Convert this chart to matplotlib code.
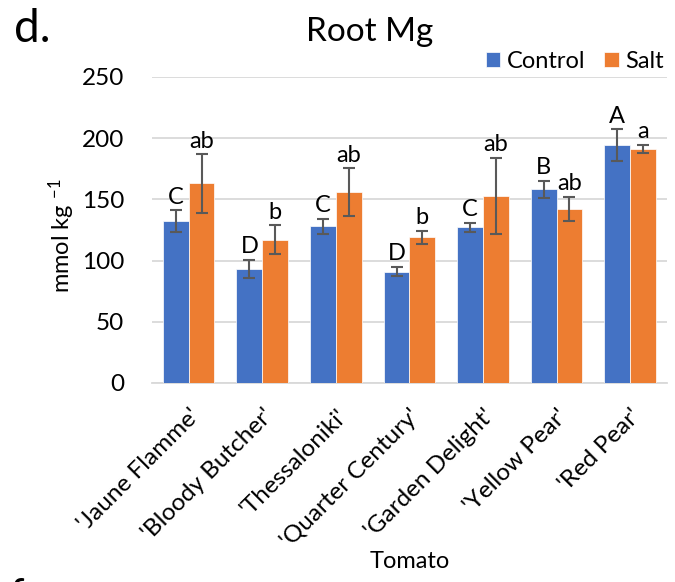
import matplotlib.pyplot as plt
import numpy as np

plt.rcParams['font.family'] = ['Lato', 'DejaVu Sans']
plt.rcParams['mathtext.default'] = 'regular'

# Dados
cultivares = ["'Jaune Flamme'", "'Bloody Butcher'", "'Thessaloniki'", "'Quarter Century'",
              "'Garden Delight'", "'Yellow Pear'", "'Red Pear'"]
controle = [132, 93, 128, 91, 127, 158, 194]
controle_err = [9, 7.5, 6, 4, 4, 7, 13]
sal = [163, 117, 156, 119, 153, 142, 191]
sal_err = [24, 12, 19.5, 5.5, 31, 10, 3.5]
letras_controle = ['C', 'D', 'C', 'D', 'C', 'B', 'A']
letras_sal = ['ab', 'b', 'ab', 'b', 'ab', 'ab', 'a']

azul = '#4472C4'
laranja = '#ED7D31'

fig = plt.figure(figsize=(6.75, 5.82), dpi=100)
ax = fig.add_axes([0.225, 0.342, 0.763, 0.526])

x = np.arange(len(cultivares))
w = 0.35
ax.bar(x - w / 2, controle, w, color=azul, edgecolor='white', linewidth=0.5, label='Control', zorder=3)
ax.bar(x + w / 2, sal, w, color=laranja, edgecolor='white', linewidth=0.5, label='Salt', zorder=3)
ax.errorbar(x - w / 2, controle, yerr=controle_err, fmt='none', ecolor='#595959',
            elinewidth=1.5, capsize=4, capthick=1.5, zorder=4)
ax.errorbar(x + w / 2, sal, yerr=sal_err, fmt='none', ecolor='#595959',
            elinewidth=1.5, capsize=4, capthick=1.5, zorder=4)

# letras de significância acima das barras
for i in range(len(cultivares)):
    ax.text(x[i] - w / 2, controle[i] + controle_err[i] + 2, letras_controle[i],
            ha='center', va='bottom', fontsize=17)
    ax.text(x[i] + w / 2, sal[i] + sal_err[i] + 2, letras_sal[i],
            ha='center', va='bottom', fontsize=17)

ax.set_ylim(0, 250)
ax.set_xlim(-0.5, len(cultivares) - 0.5)
ax.set_yticks([0, 50, 100, 150, 200, 250])
ax.yaxis.grid(True, color='#D9D9D9', linewidth=1.3, zorder=0)
ax.set_axisbelow(True)
for s in ['top', 'right', 'left']:
    ax.spines[s].set_visible(False)
ax.spines['bottom'].set_color('#D9D9D9')
ax.spines['bottom'].set_linewidth(1.3)
ax.tick_params(axis='y', length=0, labelsize=17.5, pad=20)
ax.set_xticks(x)
ax.set_xticklabels(cultivares, rotation=45, ha='right', rotation_mode='anchor', fontsize=17.5)
ax.tick_params(axis='x', length=0, pad=16)

ax.set_ylabel('mmol kg $^{-1}$', fontsize=17)
ax.yaxis.set_label_coords(-0.145, 0.48)
ax.set_xlabel('Tomato', fontsize=17)
ax.xaxis.set_label_coords(0.5, -0.55)

fig.text(0.548, 0.945, 'Root Mg', ha='center', va='center', fontsize=24)
fig.text(0.02, 0.95, 'd.', ha='left', va='center', fontsize=33)
fig.text(0.015, -0.025, 'f', ha='left', va='center', fontsize=30)

ax.legend(loc='center right', bbox_to_anchor=(0.995, 1.05), ncol=2, frameon=False, fontsize=17,
          handlelength=0.6, handleheight=0.6, handletextpad=0.3, columnspacing=0.8,
          borderaxespad=0, borderpad=0)

fig.savefig('out.png', dpi=100)
